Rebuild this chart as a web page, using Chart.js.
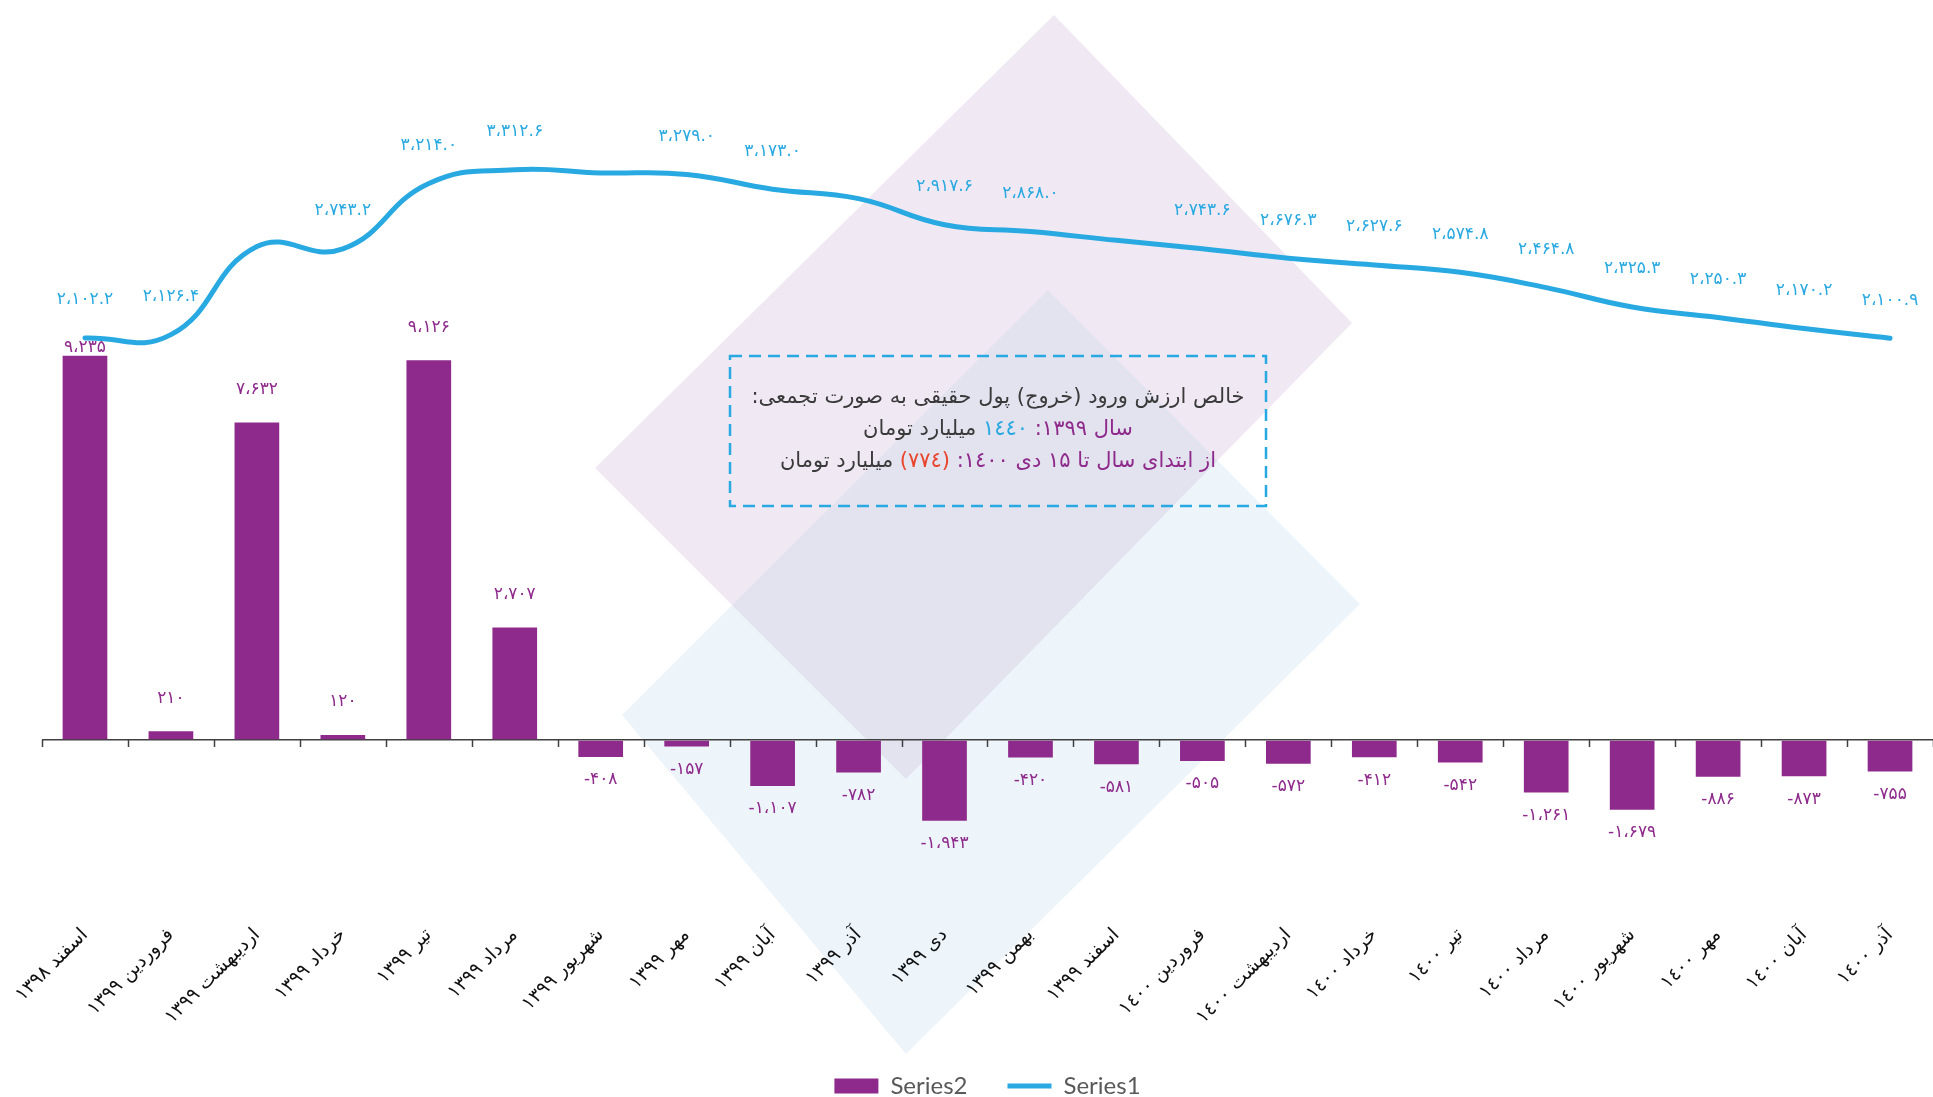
<!DOCTYPE html>
<html lang="fa">
<head>
<meta charset="utf-8">
<title>خالص ارزش ورود پول حقیقی</title>
<script src="https://cdn.jsdelivr.net/npm/chart.js@4.4.1/dist/chart.umd.min.js"></script>
<style>
  html, body { margin: 0; padding: 0; background: #fff; }
  #wrap { width: 1933px; height: 1097px; position: relative; }
</style>
</head>
<body>
<div id="wrap"><canvas id="flowChart"></canvas></div>
<script>
// Months (category axis)
const months = [
    'اسفند ۱۳۹۸', 'فروردین ۱۳۹۹', 'اردیبهشت ۱۳۹۹', 'خرداد ۱۳۹۹', 'تیر ۱۳۹۹', 'مرداد ۱۳۹۹',
    'شهریور ۱۳۹۹', 'مهر ۱۳۹۹', 'آبان ۱۳۹۹', 'آذر ۱۳۹۹', 'دی ۱۳۹۹', 'بهمن ۱۳۹۹',
    'اسفند ۱۳۹۹', 'فروردین ۱٤۰۰', 'اردیبهشت ۱٤۰۰', 'خرداد ۱٤۰۰', 'تیر ۱٤۰۰', 'مرداد ۱٤۰۰',
    'شهریور ۱٤۰۰', 'مهر ۱٤۰۰', 'آبان ۱٤۰۰', 'آذر ۱٤۰۰'
];

// Series2 - monthly net flow (bars)
const netFlow = [
    9235, 210, 7632, 120, 9126, 2707, -408, -157, -1107, -782, -1943,
    -420, -581, -505, -572, -412, -542, -1261, -1679, -886, -873, -755
];

// Series1 - line values (labels 2, 6, 9, 12 are not printed in the original)
const cumulative = [
    2102.2, 2126.4, 2760.0, 2743.2, 3214.0, 3312.6, 3290.0, 3279.0, 3173.0, 3105.0, 2917.6,
    2868.0, 2805.0, 2743.6, 2676.3, 2627.6, 2574.8, 2464.8, 2325.3, 2250.3, 2170.2, 2100.9
];
const hiddenLineLabels = [2, 6, 9, 12];

// Note box text (each line split in coloured parts, right to left)
const noteLines = [
    [{ text: 'خالص ارزش ورود (خروج) پول حقیقی به صورت تجمعی:', color: '#3a3a3a' }],
    [{ text: 'سال ۱۳۹۹: ', color: '#8e2a8c' }, { text: '۱٤٤۰ ', color: '#29a9e1' }, { text: 'میلیارد تومان', color: '#3a3a3a' }],
    [{ text: 'از ابتدای سال تا ۱۵ دی ۱٤۰۰: ', color: '#8e2a8c' }, { text: '(۷۷٤) ', color: '#e8452c' }, { text: 'میلیارد تومان', color: '#3a3a3a' }]
];

const PURPLE = '#8e2a8c';
const BLUE = '#29a9e1';
const FA_DIGITS = '۰۱۲۳۴۵۶۷۸۹';

// Persian digits, Arabic comma for thousands
function toFa(v, decimals) {
    const s = Math.abs(v).toFixed(decimals);
    let [intPart, frac] = s.split('.');
    intPart = intPart.replace(/\B(?=(\d{3})+(?!\d))/g, '،');
    let out = intPart + (frac !== undefined ? '.' + frac : '');
    out = out.replace(/\d/g, d => FA_DIGITS[d]);
    return (v < 0 ? '-' : '') + out;
}

function polygon(ctx, pts, color) {
    ctx.beginPath();
    ctx.moveTo(pts[0][0], pts[0][1]);
    for (let i = 1; i < pts.length; i++) ctx.lineTo(pts[i][0], pts[i][1]);
    ctx.closePath();
    ctx.fillStyle = color;
    ctx.fill();
}

// Background logo shapes
const watermark = {
    id: 'watermark',
    beforeDraw(chart) {
        const ctx = chart.ctx;
        ctx.save();
        polygon(ctx, [[1048, 290], [1360, 604], [906, 1054], [622, 715]], 'rgb(237,245,250)');
        polygon(ctx, [[1054, 15], [1352, 323], [906, 779], [595, 468]], 'rgba(205,182,215,0.3)');
        ctx.restore();
    }
};

// Small tick marks under the zero line, at category boundaries
const zeroTicks = {
    id: 'zeroTicks',
    beforeDatasetsDraw(chart) {
        const ctx = chart.ctx;
        const x = chart.scales.x;
        const y0 = chart.scales.y.getPixelForValue(0);
        const half = (x.getPixelForValue(1) - x.getPixelForValue(0)) / 2;
        ctx.save();
        ctx.strokeStyle = '#404040';
        ctx.lineWidth = 1.5;
        for (let i = 0; i <= months.length; i++) {
            const px = Math.round(x.getPixelForValue(i) - half) + 0.5;
            ctx.beginPath();
            ctx.moveTo(px, y0);
            ctx.lineTo(px, y0 + 7);
            ctx.stroke();
        }
        ctx.restore();
    }
};

// Value labels for bars and line
const valueLabels = {
    id: 'valueLabels',
    afterDatasetsDraw(chart) {
        const ctx = chart.ctx;
        const barMeta = chart.getDatasetMeta(0);
        const lineMeta = chart.getDatasetMeta(1);
        ctx.save();
        ctx.font = '17px "DejaVu Sans"';
        ctx.textAlign = 'center';
        ctx.textBaseline = 'middle';
        ctx.fillStyle = BLUE;
        lineMeta.data.forEach((pt, i) => {
            if (hiddenLineLabels.includes(i)) return;
            ctx.fillText(toFa(cumulative[i], 1), pt.x, pt.y - 38);
        });
        ctx.fillStyle = PURPLE;
        barMeta.data.forEach((bar, i) => {
            const v = netFlow[i];
            let y;
            if (v >= 0) {
                // keep clear of the line where they meet
                y = Math.max(bar.y - 33, lineMeta.data[i].y + 10);
            } else {
                y = bar.y + 23;
            }
            ctx.fillText(toFa(v, 0), bar.x, y);
        });
        ctx.restore();
    }
};

// Dashed note box
const noteBox = {
    id: 'noteBox',
    afterDraw(chart) {
        const ctx = chart.ctx;
        const bx = 730, by = 356, bw = 536, bh = 150;
        ctx.save();
        ctx.setLineDash([12, 7]);
        ctx.lineWidth = 2.5;
        ctx.strokeStyle = BLUE;
        ctx.strokeRect(bx, by, bw, bh);
        ctx.setLineDash([]);
        ctx.font = '21px "DejaVu Sans"';
        ctx.direction = 'rtl';
        ctx.textAlign = 'right';
        ctx.textBaseline = 'middle';
        noteLines.forEach((segs, li) => {
            const total = segs.reduce((s, seg) => s + ctx.measureText(seg.text).width, 0);
            let cx = bx + bw / 2 + total / 2;
            segs.forEach(seg => {
                ctx.fillStyle = seg.color;
                ctx.fillText(seg.text, cx, by + 42 + li * 32);
                cx -= ctx.measureText(seg.text).width;
            });
        });
        ctx.restore();
    }
};

const ctx = document.getElementById('flowChart').getContext('2d');
new Chart(ctx, {
    data: {
        labels: months,
        datasets: [
            {
                type: 'bar',
                label: 'Series2',
                data: netFlow,
                backgroundColor: PURPLE,
                borderWidth: 0,
                categoryPercentage: 1,
                barPercentage: 0.52,
                pointStyle: 'rect',
                yAxisID: 'y',
                order: 1
            },
            {
                type: 'line',
                label: 'Series1',
                data: cumulative,
                borderColor: BLUE,
                backgroundColor: BLUE,
                borderWidth: 5,
                borderCapStyle: 'round',
                tension: 0.45,
                pointRadius: 0,
                pointStyle: 'line',
                fill: false,
                yAxisID: 'y1',
                order: 0
            }
        ]
    },
    options: {
        responsive: true,
        maintainAspectRatio: false,
        animation: false,
        layout: {
            padding: { left: 42, right: 0, top: 20, bottom: -11 }
        },
        scales: {
            x: {
                grid: { display: false, drawTicks: false },
                border: { display: false },
                ticks: {
                    color: '#111',
                    font: { family: 'DejaVu Sans', size: 19 },
                    maxRotation: 45,
                    minRotation: 45,
                    autoSkip: false,
                    padding: 12
                },
                afterFit(scale) { scale.height = 122; }
            },
            y: {
                min: -4135,
                max: 17308,
                ticks: { display: false },
                grid: { drawTicks: false, color: '#404040', lineWidth: 1.6 },
                border: { display: false },
                afterBuildTicks(scale) { scale.ticks = [{ value: 0 }]; }
            },
            y1: {
                display: false,
                position: 'right',
                min: -2027,
                max: 4390
            }
        },
        plugins: {
            tooltip: { enabled: false },
            legend: {
                position: 'bottom',
                labels: {
                    usePointStyle: true,
                    pointStyleWidth: 44,
                    boxHeight: 15,
                    padding: 40,
                    color: '#595959',
                    font: { family: 'Lato', size: 24 },
                    sort: (a, b) => a.datasetIndex - b.datasetIndex
                }
            }
        }
    },
    plugins: [watermark, zeroTicks, valueLabels, noteBox]
});
</script>
</body>
</html>
